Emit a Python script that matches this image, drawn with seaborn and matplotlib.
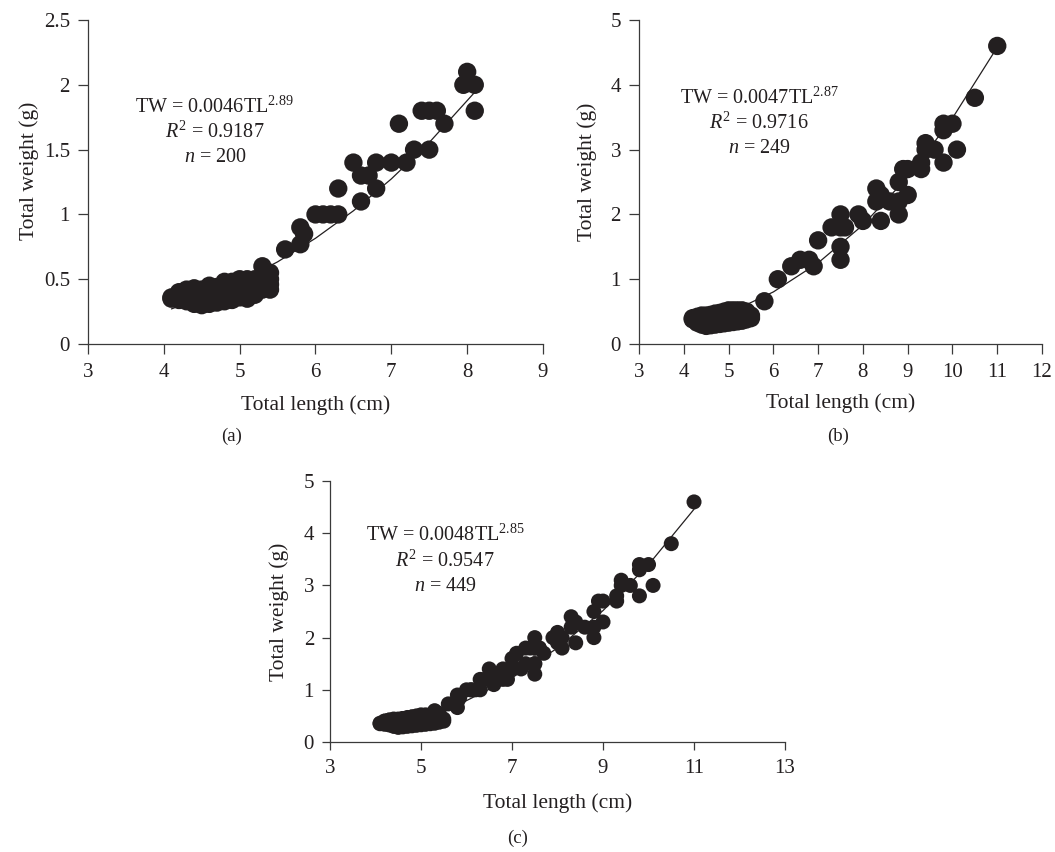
import matplotlib
matplotlib.use('Agg')
import matplotlib.pyplot as plt
import seaborn as sns
import pandas as pd

# ---- data ----
# panel (a), n = 200
tl_a = [4.1, 4.1, 4.2, 4.2, 4.2, 4.3, 4.3, 4.3, 4.4, 4.4, 4.4, 4.4,
        4.5, 4.5, 4.5, 4.5, 4.6, 4.6, 4.6, 4.6, 4.7, 4.7, 4.7, 4.7,
        4.8, 4.8, 4.8, 4.8, 4.9, 4.9, 4.9, 4.9, 5.0, 5.0, 5.0, 5.0,
        5.1, 5.1, 5.1, 5.1, 5.2, 5.2, 5.2, 5.2, 5.3, 5.3, 5.3, 5.3,
        5.4, 5.4, 5.4, 5.4,
        5.6, 5.8, 5.85, 5.8, 6.0, 6.1, 6.2, 6.3, 6.3, 6.6, 6.5, 6.6,
        6.7, 6.8, 6.8, 7.0, 7.2, 7.3, 7.5, 7.1, 7.4, 7.5, 7.6, 7.7,
        7.95, 8.0, 8.1, 8.1]
tw_a = [0.35, 0.36, 0.34, 0.37, 0.40, 0.33, 0.38, 0.42, 0.31, 0.35, 0.40, 0.43,
        0.30, 0.34, 0.38, 0.42, 0.31, 0.35, 0.40, 0.45, 0.32, 0.36, 0.41, 0.44,
        0.33, 0.37, 0.42, 0.48, 0.34, 0.39, 0.44, 0.48, 0.36, 0.41, 0.46, 0.50,
        0.35, 0.40, 0.45, 0.50, 0.38, 0.43, 0.48, 0.50, 0.42, 0.47, 0.52, 0.60,
        0.42, 0.46, 0.50, 0.55,
        0.73, 0.77, 0.85, 0.90, 1.0, 1.0, 1.0, 1.0, 1.2, 1.1, 1.4, 1.3,
        1.3, 1.2, 1.4, 1.4, 1.4, 1.5, 1.5, 1.7, 1.8, 1.8, 1.8, 1.7,
        2.0, 2.1, 2.0, 1.8]

# panel (b), n = 249
tl_b = [4.2, 4.2, 4.3, 4.3, 4.3, 4.4, 4.4, 4.4, 4.4, 4.5, 4.5, 4.5, 4.5,
        4.6, 4.6, 4.6, 4.6, 4.7, 4.7, 4.7, 4.7, 4.8, 4.8, 4.8, 4.8,
        4.9, 4.9, 4.9, 4.9, 5.0, 5.0, 5.0, 5.0, 5.1, 5.1, 5.1, 5.1,
        5.2, 5.2, 5.2, 5.2, 5.3, 5.3, 5.3, 5.3, 5.4, 5.4, 5.4, 5.5, 5.5,
        5.8, 6.1, 6.4, 6.6, 6.8, 6.9, 7.0, 7.3, 7.5, 7.5, 7.6, 7.5, 7.5,
        7.9, 8.0, 8.3, 8.3, 8.4, 8.4, 8.6, 8.8, 8.8, 8.8, 8.9, 9.0, 9.0,
        9.3, 9.3, 9.4, 9.4, 9.6, 9.8, 9.8, 9.8, 10.0, 10.1, 10.5, 11.0]
tw_b = [0.38, 0.40, 0.33, 0.37, 0.42, 0.30, 0.35, 0.40, 0.44, 0.28, 0.33, 0.38, 0.44,
        0.29, 0.34, 0.40, 0.45, 0.30, 0.36, 0.42, 0.47, 0.31, 0.37, 0.43, 0.48,
        0.32, 0.38, 0.44, 0.50, 0.33, 0.39, 0.45, 0.52, 0.34, 0.40, 0.46, 0.52,
        0.35, 0.41, 0.47, 0.52, 0.36, 0.42, 0.48, 0.52, 0.38, 0.44, 0.50, 0.40, 0.44,
        0.66, 1.0, 1.2, 1.3, 1.3, 1.2, 1.6, 1.8, 2.0, 1.8, 1.8, 1.5, 1.3,
        2.0, 1.9, 2.4, 2.2, 2.3, 1.9, 2.2, 2.5, 2.2, 2.0, 2.7, 2.7, 2.3,
        2.8, 2.7, 3.1, 3.0, 3.0, 3.4, 3.3, 2.8, 3.4, 3.0, 3.8, 4.6]

# panel (c): both samples pooled, n = 449
tl_c = tl_a + tl_b
tw_c = tw_a + tw_b

# fitted power curves
fit_x_a = [4.1, 4.5, 5.0, 5.5, 6.0, 6.5, 7.0, 7.5, 8.1]
fit_y_a = [0.271, 0.355, 0.482, 0.634, 0.816, 1.028, 1.274, 1.555, 1.943]
fit_x_b = [4.2, 5.0, 6.0, 7.0, 8.0, 9.0, 10.0, 11.0]
fit_y_b = [0.289, 0.477, 0.804, 1.252, 1.837, 2.576, 3.486, 4.58]
fit_x_c = [4.1, 5.0, 6.0, 7.0, 8.0, 9.0, 10.0, 11.0]
fit_y_c = [0.268, 0.471, 0.793, 1.230, 1.800, 2.518, 3.397, 4.46]

eq_a = [r'TW = 0.0046TL$^{2.89}$', r'$\mathit{R}^{2}$ = 0.9187', r'$\mathit{n}$ = 200']
eq_b = [r'TW = 0.0047TL$^{2.87}$', r'$\mathit{R}^{2}$ = 0.9716', r'$\mathit{n}$ = 249']
eq_c = [r'TW = 0.0048TL$^{2.85}$', r'$\mathit{R}^{2}$ = 0.9547', r'$\mathit{n}$ = 449']

sns.set_style('ticks')
plt.rcParams['font.family'] = ['Liberation Serif', 'DejaVu Serif']
plt.rcParams['mathtext.fontset'] = 'custom'
plt.rcParams['mathtext.rm'] = 'Liberation Serif'
plt.rcParams['mathtext.it'] = 'Liberation Serif:italic'
plt.rcParams['axes.edgecolor'] = '#3a3a3a'
plt.rcParams['xtick.color'] = '#3a3a3a'
plt.rcParams['ytick.color'] = '#3a3a3a'
plt.rcParams['xtick.labelcolor'] = '#231f20'
plt.rcParams['ytick.labelcolor'] = '#231f20'

ink = '#231f20'
fig = plt.figure(figsize=(10.55, 8.52), dpi=100)
ax_a = fig.add_axes([0.0834, 0.5962, 0.4313, 0.3803])
ax_b = fig.add_axes([0.6057, 0.5962, 0.3820, 0.3803])
ax_c = fig.add_axes([0.3128, 0.1291, 0.4313, 0.3063])

panels = [
    dict(ax=ax_a, x=tl_a, y=tw_a, fx=fit_x_a, fy=fit_y_a, eq=eq_a, s=175,
         xlim=(3, 9), xt=range(3, 10), ylim=(0, 2.5), yt=[0, 0.5, 1, 1.5, 2, 2.5],
         ytl=['0', '0.5', '1', '1.5', '2', '2.5'], tx=0.279, ty=[0.731, 0.654, 0.577],
         ylab=(-0.129, 0.535), xlab=(0.5, -0.188), tick=7),
    dict(ax=ax_b, x=tl_b, y=tw_b, fx=fit_x_b, fy=fit_y_b, eq=eq_b, s=175,
         xlim=(3, 12), xt=range(3, 13), ylim=(0, 5), yt=range(0, 6), ytl=None,
         tx=0.298, ty=[0.759, 0.682, 0.602],
         ylab=(-0.129, 0.53), xlab=(0.5, -0.182), tick=7),
    dict(ax=ax_c, x=tl_c, y=tw_c, fx=fit_x_c, fy=fit_y_c, eq=eq_c, s=117,
         xlim=(3, 13), xt=range(3, 14, 2), ylim=(0, 5), yt=range(0, 6), ytl=None,
         tx=0.253, ty=[0.793, 0.693, 0.594],
         ylab=(-0.112, 0.5), xlab=(0.5, -0.234), tick=5.5),
]

for p in panels:
    ax = p['ax']
    df = pd.DataFrame({'tl': p['x'], 'tw': p['y']})
    sns.scatterplot(data=df, x='tl', y='tw', ax=ax, s=p['s'], color=ink,
                    edgecolor='none', linewidth=0, zorder=2)
    fit = pd.DataFrame({'tl': p['fx'], 'tw': p['fy']})
    sns.lineplot(data=fit, x='tl', y='tw', ax=ax, color=ink, lw=0.9,
                 sort=False, estimator=None, zorder=3)
    ax.set_xlim(*p['xlim'])
    ax.set_ylim(*p['ylim'])
    ax.set_xticks(list(p['xt']))
    ax.set_yticks(list(p['yt']))
    if p['ytl']:
        ax.set_yticklabels(p['ytl'])
    ax.tick_params(labelsize=15, length=p['tick'], width=0.9, direction='out')
    ax.tick_params(axis='x', pad=7)
    ax.tick_params(axis='y', pad=6)
    ax.set_xlabel('Total length (cm)', fontsize=15.5, color=ink)
    ax.set_ylabel('Total weight (g)', fontsize=15.5, color=ink)
    ax.yaxis.set_label_coords(*p['ylab'])
    ax.xaxis.set_label_coords(*p['xlab'])
    ax.xaxis.label.set_va('center')
    ax.yaxis.label.set_va('center')
    for sp in ['left', 'bottom']:
        ax.spines[sp].set_linewidth(0.9)
    sns.despine(ax=ax)
    for line, ty in zip(p['eq'], p['ty']):
        ax.text(p['tx'], ty, line, transform=ax.transAxes, ha='center', va='center',
                fontsize=14.5, color=ink)

fig.text(232 / 1055, 1 - 436 / 852, '(a)', ha='center', va='center', fontsize=13.5, color=ink)
fig.text(838 / 1055, 1 - 436 / 852, '(b)', ha='center', va='center', fontsize=13.5, color=ink)
fig.text(518 / 1055, 1 - 838 / 852, '(c)', ha='center', va='center', fontsize=13.5, color=ink)

fig.savefig('out.png', dpi=100, facecolor='white')
